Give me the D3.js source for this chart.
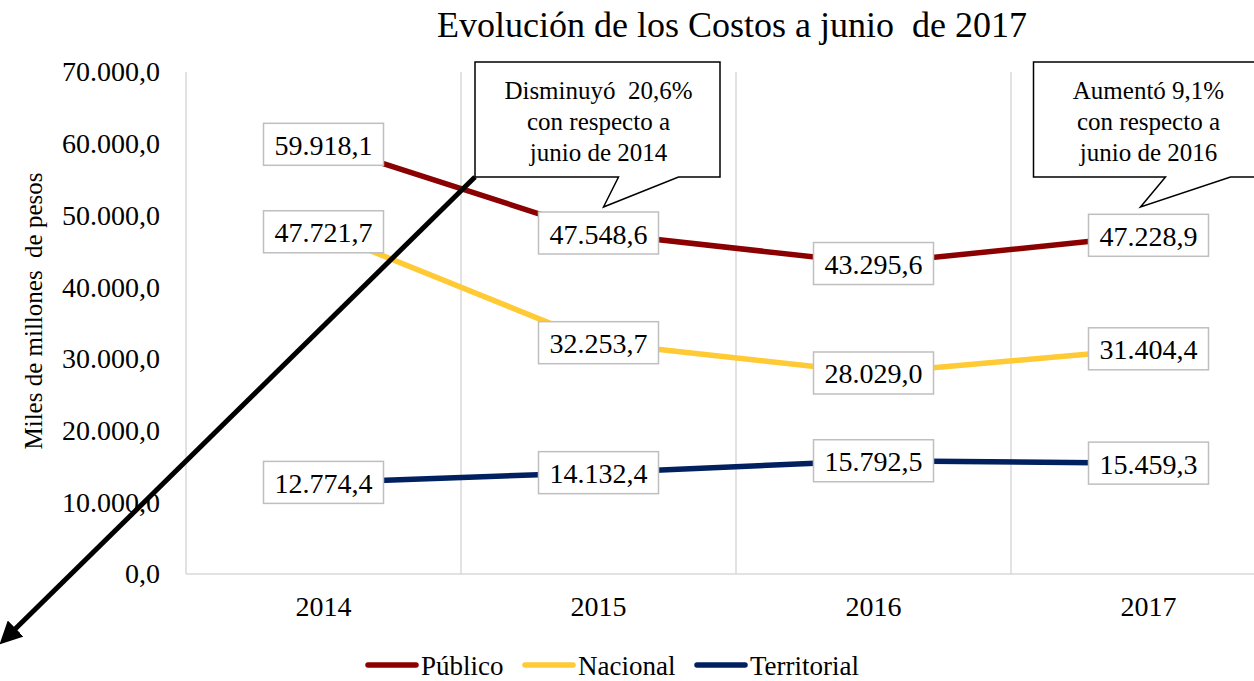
<!DOCTYPE html>
<html>
<head>
<meta charset="utf-8">
<script src="https://cdn.jsdelivr.net/npm/d3@7"></script>
<style>
  body { margin: 0; background: #fff; }
  svg { display: block; font-family: "Liberation Serif", "Times New Roman", serif; }
</style>
</head>
<body>
<svg id="chart" width="1254" height="681"></svg>
<script>
const years = ["2014", "2015", "2016", "2017"];
const publico = [59918.1, 47548.6, 43295.6, 47228.9];
const nacional = [47721.7, 32253.7, 28029.0, 31404.4];
const territorial = [12774.4, 14132.4, 15792.5, 15459.3];
const yTicks = [0, 10000, 20000, 30000, 40000, 50000, 60000, 70000];
const seriesNames = ["Público", "Nacional", "Territorial"];
const seriesColors = ["#8b0000", "#ffca33", "#002060"];
const notes = [
  {year: "2015", lines: ["Disminuyó  20,6%", "con respecto a", "junio de 2014"]},
  {year: "2017", lines: ["Aumentó 9,1%", "con respecto a", "junio de 2016"]}
];

const width = 1254, height = 681;
const serif = "Liberation Serif";
const svg = d3.select("#chart");
const locale = d3.formatLocale({decimal: ",", thousands: ".", grouping: [3], currency: ["$", ""]});
const fmt = locale.format(",.1f");

const x = d3.scaleBand().domain(years).range([186, 1286]);
const y = d3.scaleLinear().domain([0, 70000]).range([574, 72]);
const cx = d => x(d) + x.bandwidth() / 2;

// grid
const grid = svg.append("g").attr("stroke", "#d9d9d9").attr("stroke-width", 1.5);
grid.selectAll("line.v").data(years).join("line")
  .attr("x1", d => x(d)).attr("x2", d => x(d))
  .attr("y1", y(70000)).attr("y2", y(0));
grid.append("line").attr("x1", x.range()[0]).attr("x2", x.range()[1]).attr("y1", y(0)).attr("y2", y(0));

// axes
svg.append("g").attr("transform", "translate(160,0)")
  .call(d3.axisLeft(y).tickValues(yTicks).tickFormat(fmt).tickSize(0).tickPadding(0))
  .attr("font-family", serif)
  .call(g => g.select(".domain").remove())
  .selectAll("text").attr("font-size", 28).attr("fill", "#000");

svg.append("g").attr("transform", "translate(0,596)")
  .call(d3.axisBottom(x).tickSize(0).tickPadding(0))
  .attr("font-family", serif)
  .call(g => g.select(".domain").remove())
  .selectAll("text").attr("font-size", 28).attr("fill", "#000")
  .attr("dy", "0.71em");

svg.append("text")
  .attr("transform", "translate(33,311) rotate(-90)")
  .attr("text-anchor", "middle").attr("dominant-baseline", "central")
  .attr("font-size", 25).style("white-space", "pre")
  .text("Miles de millones  de pesos");

// title
svg.append("text").attr("x", 732).attr("y", 37).attr("text-anchor", "middle")
  .attr("font-size", 36).style("white-space", "pre")
  .text("Evolución de los Costos a junio  de 2017");

// lines
const seriesData = [publico, nacional, territorial];
const line = d3.line().x((d, i) => cx(years[i])).y(d => y(d));
svg.append("g").selectAll("path").data(seriesData).join("path")
  .attr("d", line).attr("fill", "none")
  .attr("stroke", (d, i) => seriesColors[i]).attr("stroke-width", 5.5);

// data labels
const labels = svg.append("g");
seriesData.forEach(s => {
  s.forEach((v, i) => {
    const g = labels.append("g").attr("transform", "translate(" + cx(years[i]) + "," + y(v) + ")");
    g.append("rect").attr("x", -60).attr("y", -21).attr("width", 120).attr("height", 42)
      .attr("fill", "#fff").attr("stroke", "#bfbfbf").attr("stroke-width", 1.5);
    g.append("text").attr("text-anchor", "middle").attr("dominant-baseline", "central").attr("y", 1)
      .attr("font-size", 28).text(fmt(v));
  });
});

// callouts
const callouts = svg.append("g");
notes.forEach((n, k) => {
  const px = cx(n.year);
  const w = k === 0 ? 245 : 230;
  const left = px - w / 2 + (k === 0 ? -1 : 0);
  const top = 62, bottom = 177;
  const tipX = px + 5 - (k === 1 ? 13 : 0), tipY = 207;
  const b1 = px + 20 + (k === 1 ? -3 : 0), b2 = px + 80 + (k === 1 ? 2 : 0);
  const p = [[left, top], [left + w, top], [left + w, bottom], [b2, bottom], [tipX, tipY], [b1, bottom], [left, bottom]];
  callouts.append("path").attr("d", d3.line()(p) + "Z")
    .attr("fill", "#fff").attr("stroke", "#000").attr("stroke-width", 1.5);
  callouts.append("text").attr("x", px).attr("y", 90).attr("text-anchor", "middle")
    .attr("font-size", 25).style("white-space", "pre")
    .selectAll("tspan").data(n.lines).join("tspan")
    .attr("x", px).attr("dy", (d, i) => i === 0 ? "0.35em" : "31px").text(d => d);
  n.corner = [left, bottom];
});

// arrow from first callout corner
svg.append("defs").append("marker").attr("id", "arrowhead")
  .attr("viewBox", "0 0 10 10").attr("refX", 6).attr("refY", 5)
  .attr("markerWidth", 4.5).attr("markerHeight", 4.5).attr("orient", "auto")
  .append("path").attr("d", "M0,0L10,5L0,10Z").attr("fill", "#000");
svg.append("line")
  .attr("x1", notes[0].corner[0]).attr("y1", notes[0].corner[1])
  .attr("x2", 6).attr("y2", 638)
  .attr("stroke", "#000").attr("stroke-width", 5)
  .attr("marker-end", "url(#arrowhead)");

// legend
const legendX = [368, 525, 697];
const legend = svg.append("g").attr("transform", "translate(0,665)");
seriesNames.forEach((name, i) => {
  legend.append("line").attr("x1", legendX[i]).attr("x2", legendX[i] + 48)
    .attr("stroke", seriesColors[i]).attr("stroke-width", 5.5).attr("stroke-linecap", "round");
  legend.append("text").attr("x", legendX[i] + 53).attr("dominant-baseline", "central").attr("y", 1)
    .attr("font-size", 27).text(name);
});
</script>
</body>
</html>
